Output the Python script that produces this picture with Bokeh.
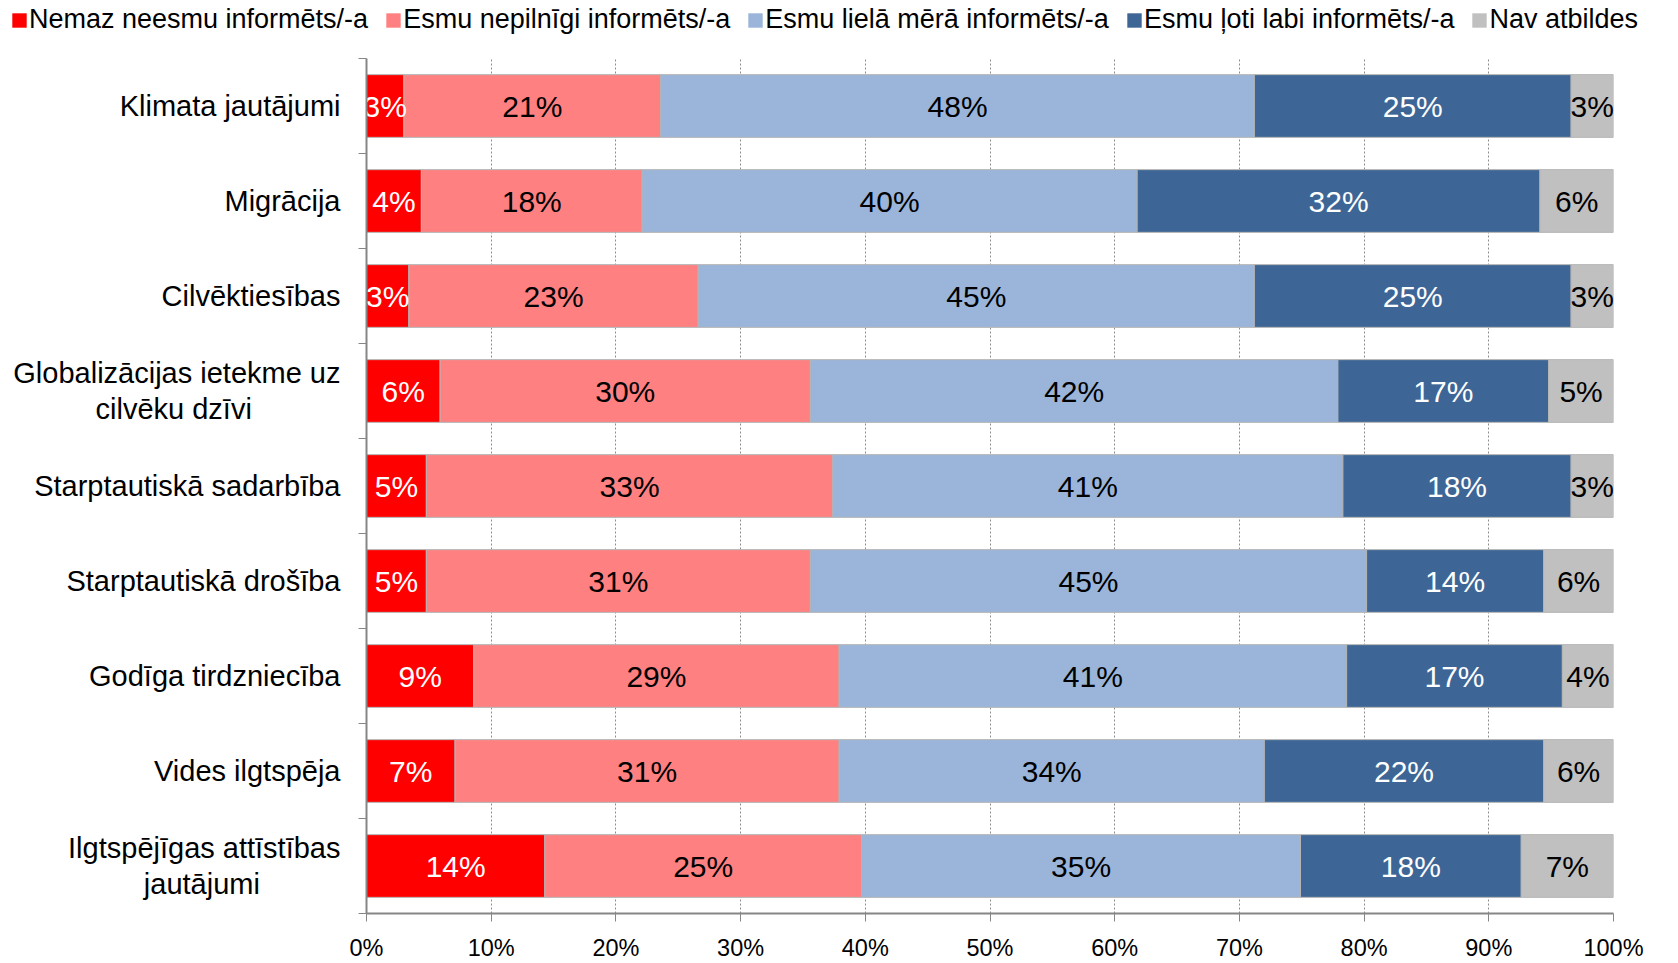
from bokeh.plotting import figure
from bokeh.layouts import column, row
from bokeh.models import (ColumnDataSource, Range1d, FixedTicker, NumeralTickFormatter,
                          Legend, LegendItem)
from bokeh.embed import file_html
from bokeh.resources import INLINE
from bokeh.core.properties import value

NB = "\u00A0"
categories = [
    "Klimata jautājumi",
    "Migrācija",
    "Cilvēktiesības",
    "Globalizācijas ietekme uz\ncilvēku dzīvi" + NB * 11,
    "Starptautiskā sadarbība",
    "Starptautiskā drošība",
    "Godīga tirdzniecība",
    "Vides ilgtspēja",
    "Ilgtspējīgas attīstības\njautājumi" + NB * 10,
]
series_names = [
    "Nemaz neesmu informēts/-a",
    "Esmu nepilnīgi informēts/-a",
    "Esmu lielā mērā informēts/-a",
    "Esmu ļoti labi informēts/-a",
    "Nav atbildes",
]
nemaz = [3.0, 4.4, 3.4, 5.9, 4.8, 4.8, 8.6, 7.1, 14.3]
nepilnigi = [20.6, 17.7, 23.2, 29.7, 32.6, 30.8, 29.3, 30.8, 25.4]
liela = [47.6, 39.7, 44.6, 42.3, 40.9, 44.6, 40.7, 34.1, 35.2]
loti = [25.4, 32.3, 25.4, 16.9, 18.3, 14.2, 17.3, 22.4, 17.7]
nav = [3.4, 5.9, 3.4, 5.2, 3.4, 5.6, 4.1, 5.6, 7.4]
x_ticks = [0, 10, 20, 30, 40, 50, 60, 70, 80, 90, 100]

series_values = [nemaz, nepilnigi, liela, loti, nav]
colors = ["#FF0000", "#FF8080", "#9AB5D9", "#3D6696", "#C0C0C0"]
label_colors = ["white", "black", "black", "white", "black"]
FONT = "Liberation Sans"

n = len(categories)
ys = [n - 0.5 - i for i in range(n)]
data = {"y": ys}
keys = []
for j, vals in enumerate(series_values):
    k = f"s{j}"
    data[k] = [v / 100 for v in vals]
    keys.append(k)
source = ColumnDataSource(data)

# ---- legend strip: its own figure so the legend can start left of the bars ----
lf = figure(width=1678, height=58, x_range=Range1d(0, 1), y_range=Range1d(0, 1),
            output_backend="svg", toolbar_location=None,
            x_axis_location=None, y_axis_location=None,
            min_border_left=0, min_border_right=0, min_border_top=0, min_border_bottom=0)
lf.outline_line_color = None
lf.xgrid.visible = False
lf.ygrid.visible = False
has_frame_align = "frame_align" in lf.properties()
if has_frame_align:
    lf.frame_align = False
# swatch-only renderers (no drawable box), used just for the legend squares
nan = float("nan")
swatch_src = ColumnDataSource({"x": [nan], "y": [nan]})
leg_renderers = [lf.quad(left="x", right="x", top="y", bottom="y", source=swatch_src,
                         fill_color=c, line_color=None) for c in colors]
legend = Legend(items=[LegendItem(label=nm, renderers=[r]) for nm, r in zip(series_names, leg_renderers)],
                orientation="horizontal", location=(10, 23),
                border_line_color=None, background_fill_alpha=0,
                padding=0, margin=0, spacing=16, glyph_width=18, glyph_height=18,
                label_standoff=1, label_text_font=FONT, label_text_font_size="27px",
                label_text_color="black")
lf.add_layout(legend)

# ---- main chart ----
p = figure(width=1678, height=905, x_range=Range1d(0, 1), y_range=Range1d(0, n),
           output_backend="svg", toolbar_location=None,
           min_border_left=366, min_border_right=65, min_border_top=0, min_border_bottom=48)
p.outline_line_color = None
if has_frame_align:
    p.frame_align = False

renderers = p.hbar_stack(keys, y="y", height=0.66, fill_color=colors,
                         line_color="#B4B4B4", line_width=1, source=source)

# value labels
cum = [0.0] * n
for j, vals in enumerate(series_values):
    xs, txt = [], []
    for i, v in enumerate(vals):
        xs.append((cum[i] + v / 2) / 100)
        cum[i] += v
        txt.append(f"{round(v)}%")
    p.text(x=xs, y=ys, text=txt, text_align="center", text_baseline="middle",
           text_color=label_colors[j], text_font=value(FONT), text_font_size="30px")

# x axis
xt = FixedTicker(ticks=[t / 100 for t in x_ticks])
p.xaxis.ticker = xt
p.xaxis.formatter = NumeralTickFormatter(format="0%")
p.xaxis.major_tick_out = 8
p.xaxis.major_tick_in = 0
p.xaxis.minor_tick_out = 0
p.xaxis.minor_tick_in = 0
p.xaxis.major_label_standoff = 13
p.xaxis.major_label_text_font = FONT
p.xaxis.major_label_text_font_size = "23.5px"
p.xaxis.major_label_text_color = "black"
p.xaxis.axis_line_color = "#868686"
p.xaxis.axis_line_width = 2
p.xaxis.major_tick_line_color = "#868686"

p.xgrid.ticker = xt
p.xgrid.grid_line_color = "#8C8C8C"
p.xgrid.grid_line_dash = "2 2"
p.ygrid.visible = False

# y axis
p.yaxis.ticker = FixedTicker(ticks=ys, minor_ticks=list(range(n + 1)))
p.yaxis.major_label_overrides = {y: c for y, c in zip(ys, categories)}
p.yaxis.major_tick_out = 0
p.yaxis.major_tick_in = 0
p.yaxis.minor_tick_out = 8
p.yaxis.minor_tick_in = 0
p.yaxis.minor_tick_line_color = "#868686"
p.yaxis.major_label_standoff = 18
p.yaxis.major_label_text_font = FONT
p.yaxis.major_label_text_font_size = "29px"
p.yaxis.major_label_text_line_height = 1.12
p.yaxis.major_label_text_color = "black"
p.yaxis.axis_line_color = "#868686"
p.yaxis.axis_line_width = 2

if has_frame_align:
    layout = column(lf, p, spacing=0)
else:
    layout = column(row(lf), row(p), spacing=0)
open("out.html", "w").write(file_html(layout, INLINE))
